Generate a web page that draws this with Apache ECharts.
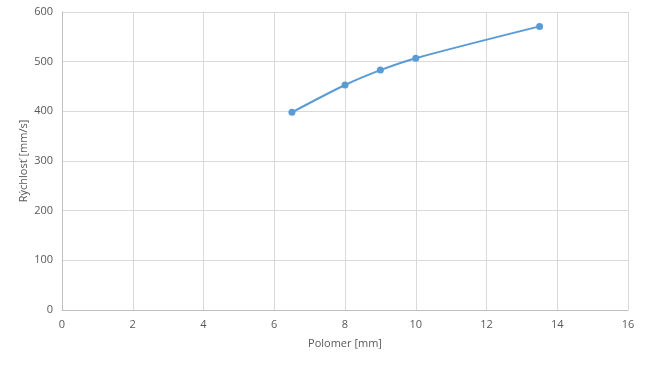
<!DOCTYPE html>
<html><head><meta charset="utf-8">
<script src="https://cdn.jsdelivr.net/npm/echarts@6/dist/echarts.min.js"></script>
<style>html,body{margin:0;padding:0;background:#fff}#c{width:648px;height:383px}</style>
</head><body><div id="c"></div>
<script>
const xValues = [6.5, 8, 9, 10, 13.5];
const yValues = [398, 453, 483, 507, 571];
const xName = 'Polomer [mm]';
const yName = 'Rýchlosť [mm/s]';
const chart = echarts.init(document.getElementById('c'));
const font = 'Open Sans, Liberation Sans, sans-serif';
chart.setOption({
  animation: false,
  grid: {left: 62, top: 12, right: 20, bottom: 73},
  xAxis: {
    type: 'value', min: 0, max: 16, interval: 2,
    name: xName, nameLocation: 'middle', nameGap: 28,
    nameTextStyle: {color: '#595959', fontSize: 11, fontFamily: font},
    axisLine: {lineStyle: {color: '#bfbfbf'}},
    axisTick: {show: false},
    axisLabel: {color: '#595959', fontSize: 11, fontFamily: font, margin: 9},
    splitLine: {lineStyle: {color: '#d9d9d9'}}
  },
  yAxis: {
    type: 'value', min: 0, max: 600, interval: 100,
    name: yName, nameLocation: 'middle', nameGap: 38, nameMoveOverlap: false,
    nameTextStyle: {color: '#595959', fontSize: 11, fontFamily: font, verticalAlign: 'middle', lineHeight: 14},
    axisLine: {show: true, lineStyle: {color: '#bfbfbf'}},
    axisTick: {show: false},
    axisLabel: {color: '#595959', fontSize: 11, fontFamily: font, margin: 9},
    splitLine: {lineStyle: {color: '#d9d9d9'}}
  },
  series: [{
    type: 'line', smooth: 0.3,
    data: xValues.map((x, i) => [x, yValues[i]]),
    symbol: 'circle', symbolSize: 7,
    lineStyle: {color: '#5b9bd5', width: 2},
    itemStyle: {color: '#5b9bd5'}
  }]
});
</script></body></html>
